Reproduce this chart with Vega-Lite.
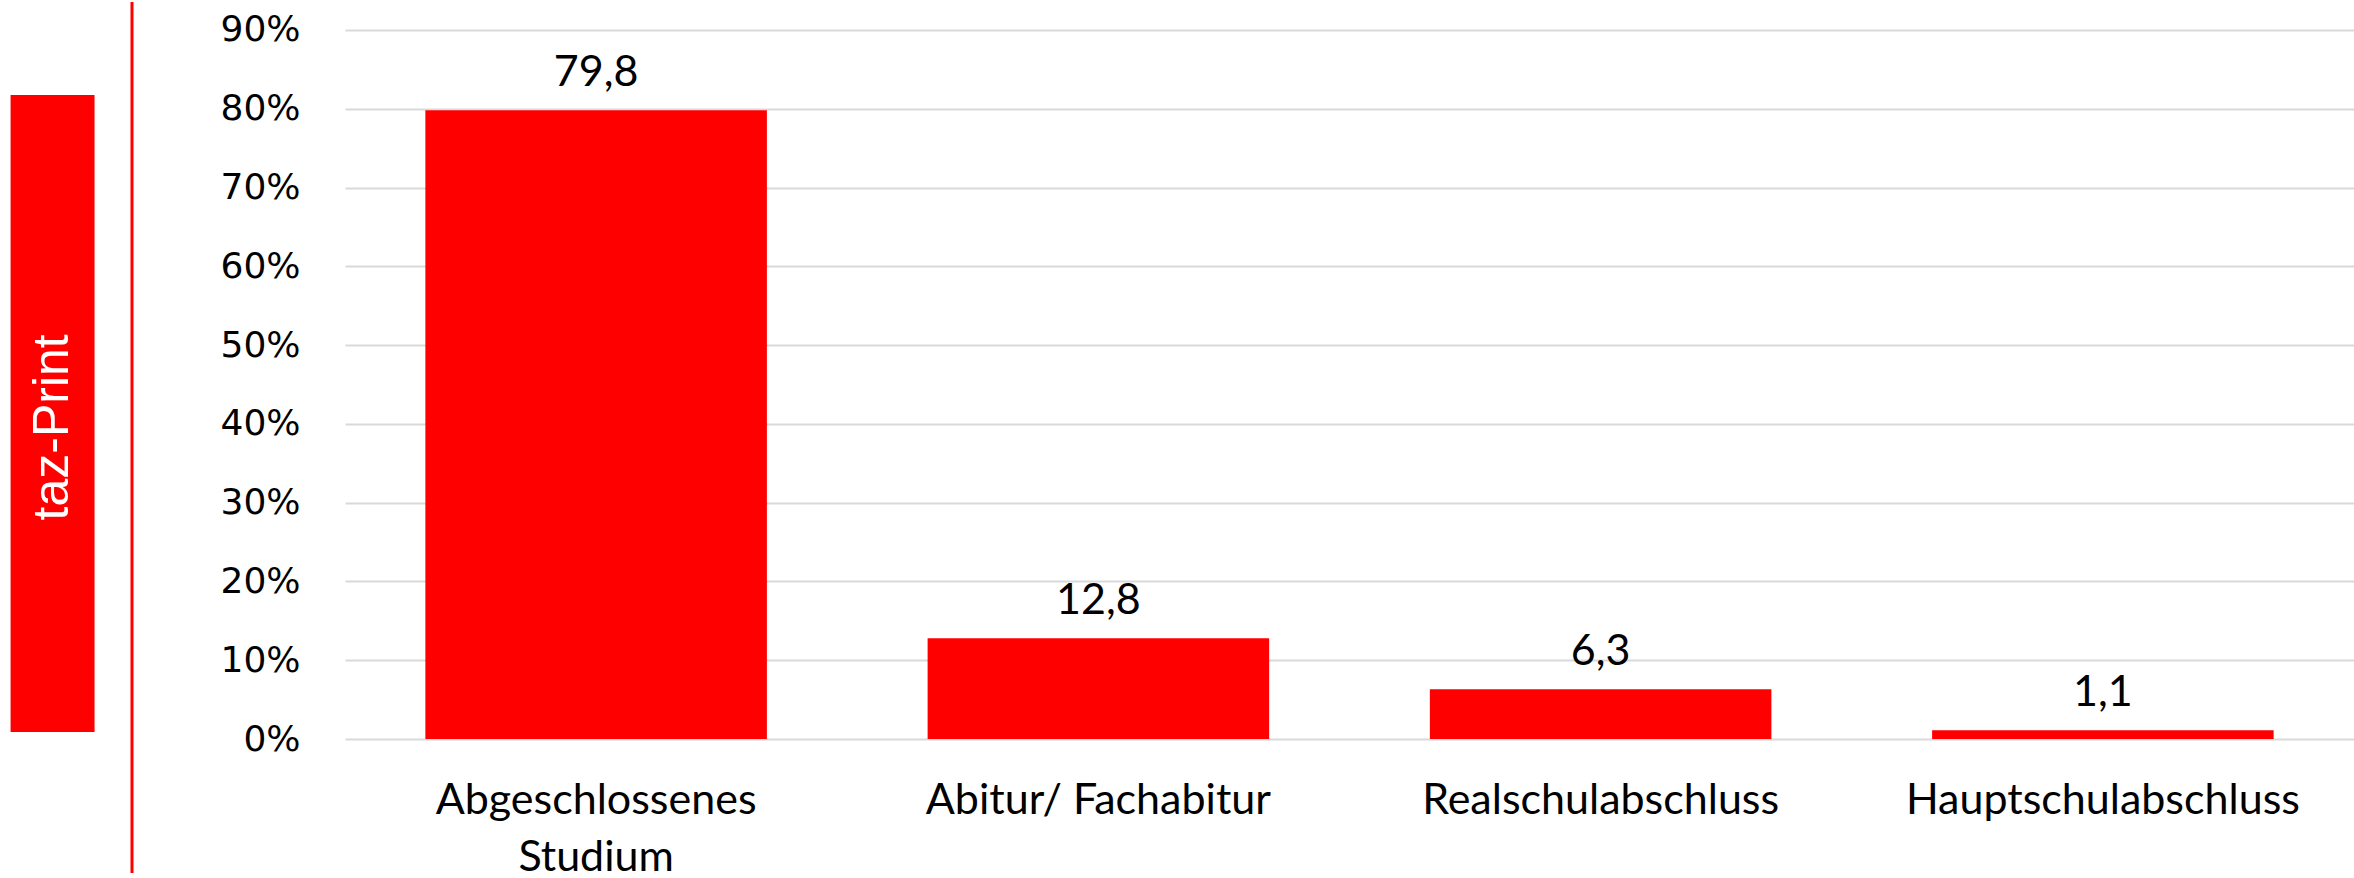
{
  "$schema": "https://vega.github.io/schema/vega-lite/v6.json",
  "padding": 0,
  "background": "white",
  "config": {
    "locale": {"number": {"decimal": ",", "thousands": ".", "grouping": [3], "currency": ["", " €"]}},
    "view": {"stroke": null}
  },
  "bounds": "flush",
  "spacing": 213,
  "hconcat": [
    {
      "width": 132,
      "height": 871,
      "view": {"stroke": null},
      "data": {"values": [{"label": "taz-Print"}]},
      "resolve": {"scale": {"x": "independent"}},
      "layer": [
        {
          "layer": [
            {
              "mark": {"type": "rect", "color": "#ff0000"},
              "encoding": {
                "x": {"field": "label", "type": "nominal", "axis": null, "scale": {"paddingInner": 0, "paddingOuter": 0.286, "align": 0.22}},
                "y": {"field": "label", "type": "nominal", "axis": null, "scale": {"paddingInner": 0, "paddingOuter": 0.1837, "align": 0.397}}
              }
            },
            {
              "mark": {"type": "text", "color": "white", "font": "Liberation Sans", "fontSize": 50, "angle": 270, "align": "center", "baseline": "middle", "dx": -14},
              "encoding": {
                "x": {"field": "label", "type": "nominal", "axis": null},
                "y": {"field": "label", "type": "nominal", "axis": null},
                "text": {"field": "label"}
              }
            }
          ]
        },
        {
          "mark": {"type": "rule", "color": "#ff0000", "strokeWidth": 3},
          "encoding": {
            "x": {"datum": 1, "type": "quantitative", "scale": {"domain": [0, 1], "nice": false, "zero": false}, "axis": null}
          }
        }
      ]
    },
    {
      "width": 2009,
      "height": 737,
      "view": {"stroke": null},
      "data": {
        "values": [
          {"Abschluss": "Abgeschlossenes Studium", "Anteil": 79.8},
          {"Abschluss": "Abitur/ Fachabitur", "Anteil": 12.8},
          {"Abschluss": "Realschulabschluss", "Anteil": 6.3},
          {"Abschluss": "Hauptschulabschluss", "Anteil": 1.1}
        ]
      },
      "encoding": {
        "x": {
          "field": "Abschluss",
          "type": "nominal",
          "sort": null,
          "scale": {"paddingInner": 0.32, "paddingOuter": 0.16},
          "axis": {
            "title": null,
            "labelAngle": 0,
            "labelFont": "Lato",
            "labelFontSize": 43,
            "labelColor": "#000000",
            "labelPadding": 40,
            "labelLimit": 800,
            "labelLineHeight": 57,
            "labelBaseline": "top",
            "ticks": false,
            "tickSize": 0,
            "domain": false,
            "labelExpr": "datum.value == 'Abgeschlossenes Studium' ? ['Abgeschlossenes', 'Studium'] : datum.label"
          }
        },
        "y": {
          "field": "Anteil",
          "type": "quantitative",
          "scale": {"domain": [0, 93.55], "nice": false},
          "axis": {
            "title": null,
            "values": [0, 10, 20, 30, 40, 50, 60, 70, 80, 90],
            "labelExpr": "datum.value + '%'",
            "labelFont": "DejaVu Sans",
            "labelFontSize": 36,
            "labelColor": "#000000",
            "labelPadding": 45,
            "ticks": false,
            "tickSize": 0,
            "domain": false,
            "grid": true,
            "gridColor": "#d9d9d9",
            "gridWidth": 2
          }
        }
      },
      "layer": [
        {"mark": {"type": "bar", "color": "#ff0000"}},
        {
          "mark": {"type": "text", "font": "Lato", "fontSize": 43, "color": "#000000", "baseline": "alphabetic", "dy": -24},
          "encoding": {"text": {"field": "Anteil", "type": "quantitative", "format": ".1f"}}
        }
      ]
    }
  ]
}
